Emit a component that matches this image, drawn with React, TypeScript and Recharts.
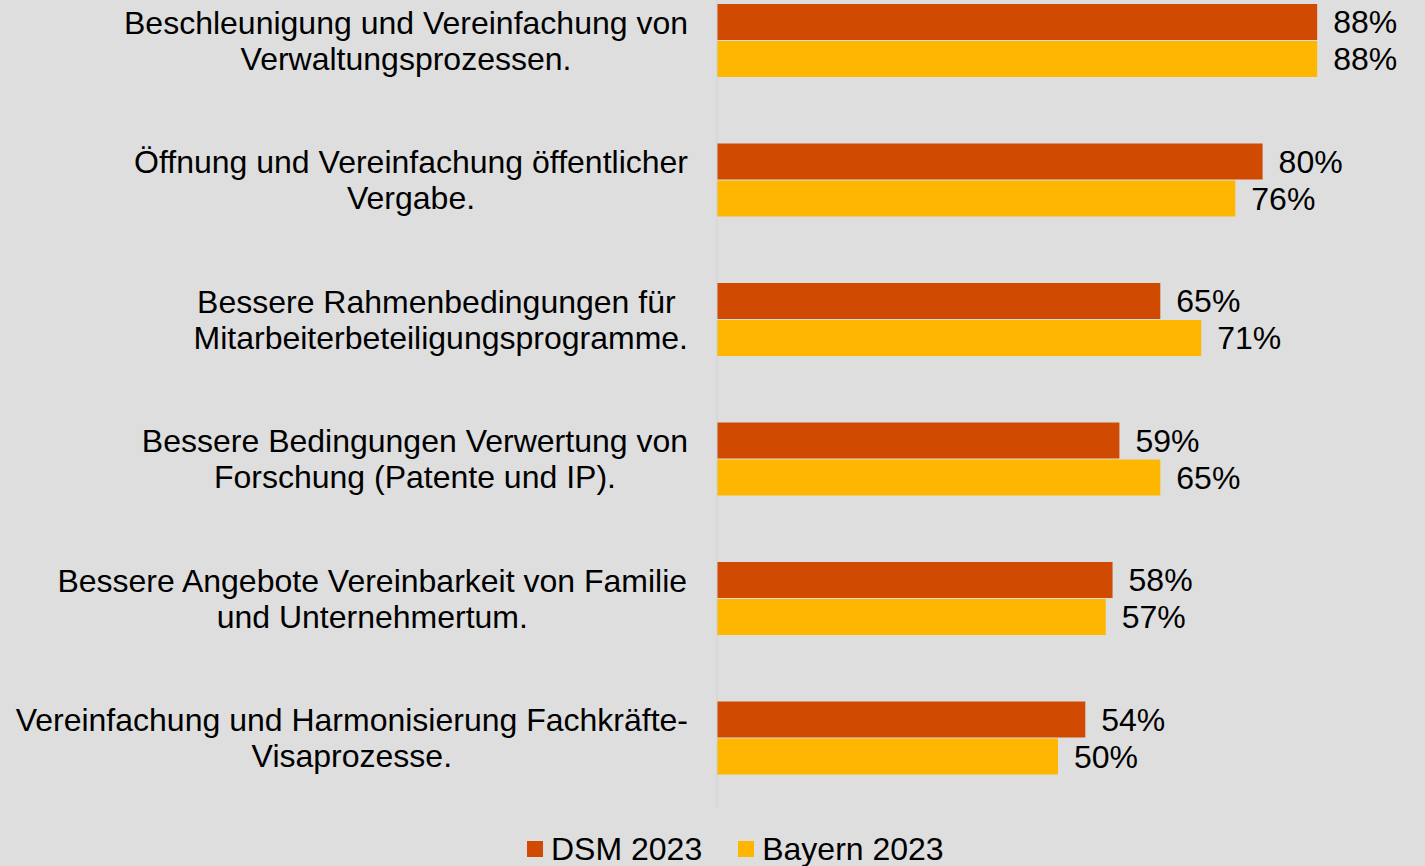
import React from "react";
import { BarChart, Bar, XAxis, YAxis, LabelList } from "recharts";

// categories (line breaks as in the original)
const categories = [
  ["Beschleunigung und Vereinfachung von", "Verwaltungsprozessen."],
  ["Öffnung und Vereinfachung öffentlicher", "Vergabe."],
  ["Bessere Rahmenbedingungen für ", "Mitarbeiterbeteiligungsprogramme."],
  ["Bessere Bedingungen Verwertung von", "Forschung (Patente und IP)."],
  ["Bessere Angebote Vereinbarkeit von Familie", "und Unternehmertum."],
  ["Vereinfachung und Harmonisierung Fachkräfte-", "Visaprozesse."],
];

const dsm2023 = [88, 80, 65, 59, 58, 54];
const bayern2023 = [88, 76, 71, 65, 57, 50];

const series = [
  { key: "dsm", name: "DSM 2023", color: "#D04A02" },
  { key: "bayern", name: "Bayern 2023", color: "#FFB600" },
];

const FONT = "'Liberation Sans', Arial, sans-serif";
const FS = 32;

const data = categories.map((lines, i) => ({
  name: lines.join("\n"),
  dsm: dsm2023[i],
  bayern: bayern2023[i],
}));

let ctx: CanvasRenderingContext2D | null = null;
const measure = (s: string) => {
  if (!ctx) ctx = document.createElement("canvas").getContext("2d");
  if (!ctx) return s.length * FS * 0.5;
  ctx.font = `${FS}px ${FONT}`;
  return ctx.measureText(s).width;
};

const CategoryTick = ({ x, y, payload }: any) => {
  const lines: string[] = String(payload.value).split("\n");
  const w = Math.max(...lines.map(measure));
  const cx = x - w / 2;
  const lh = 36;
  const start = y - ((lines.length - 1) * lh) / 2;
  return (
    <text textAnchor="middle" fontSize={FS} fontFamily={FONT} fill="#000" style={{ whiteSpace: "pre" }}>
      {lines.map((l, i) => (
        <tspan key={i} x={cx} y={start + i * lh} dominantBaseline="central">
          {l}
        </tspan>
      ))}
    </text>
  );
};

export default function App() {
  return (
    <div
      style={{
        position: "absolute",
        left: 0,
        top: 0,
        width: 1425,
        height: 866,
        overflow: "hidden",
        background: "#dedede",
        fontFamily: FONT,
      }}
    >
      <div style={{ position: "absolute", left: 0, top: -29 }}>
        <BarChart
          width={1425}
          height={895}
          data={data}
          layout="vertical"
          margin={{ top: 0, right: 26, left: 0, bottom: 58 }}
          barSize={36}
          barGap={1}
        >
          <XAxis type="number" domain={[0, 100]} hide />
          <YAxis
            type="category"
            dataKey="name"
            width={717}
            tickLine={false}
            tickSize={0}
            tickMargin={29}
            axisLine={{ stroke: "#d2d2d2", strokeWidth: 1 }}
            tick={<CategoryTick />}
            interval={0}
          />
          {series.map((s) => (
            <Bar key={s.key} dataKey={s.key} name={s.name} fill={s.color} isAnimationActive={false}>
              <LabelList
                dataKey={s.key}
                position="right"
                offset={16}
                formatter={(v: any) => `${v}%`}
                style={{ fontSize: FS, fontFamily: FONT, fill: "#000" }}
              />
            </Bar>
          ))}
        </BarChart>
      </div>
      <div
        style={{
          position: "absolute",
          left: 527,
          top: 833,
          display: "flex",
          alignItems: "center",
          gap: 36,
          fontSize: FS,
          color: "#000",
          lineHeight: "32px",
        }}
      >
        {series.map((s) => (
          <div key={s.key} style={{ display: "flex", alignItems: "center", gap: 8 }}>
            <span style={{ width: 16, height: 16, background: s.color, display: "inline-block" }} />
            <span>{s.name}</span>
          </div>
        ))}
      </div>
    </div>
  );
}
